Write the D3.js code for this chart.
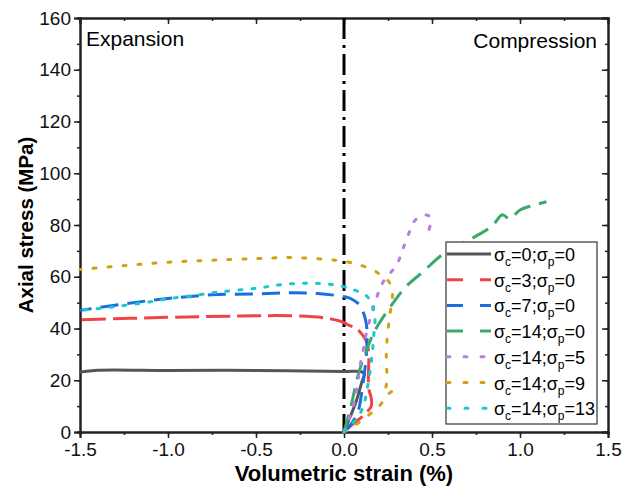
<!DOCTYPE html>
<html>
<head>
<meta charset="utf-8">
<script src="https://cdn.jsdelivr.net/npm/d3@7"></script>
<style>
  body { margin: 0; background: #fff; }
  svg text { font-family: "Liberation Sans", Arial, sans-serif; }
  .tick text { font-size: 19px; fill: #111; font-family: "Liberation Sans", Arial, sans-serif; }
</style>
</head>
<body>
<svg id="chart" width="626" height="495"></svg>
<script>
// volumetric strain (%), axial stress (MPa)
const s0_0 = [[0,0],[0.03,5],[0.07,12],[0.1,19],[0.115,22.5],[0.1,23.3],[0,23.4],[-0.5,23.8],[-1.0,23.8],[-1.4,23.9],[-1.5,23.2]];
const s3_0 = [[0,0],[0.05,3],[0.12,7],[0.155,10],[0.155,13],[0.14,17],[0.14,25],[0.14,31],[0.12,36],[0.07,40],[0.02,41.5],[0,42.3],[-0.1,44],[-0.3,44.9],[-0.6,44.8],[-1.0,44.3],[-1.5,43.4]];
const s7_0 = [[0,0],[0.04,3],[0.08,8],[0.1,15],[0.12,25],[0.13,33],[0.13,40],[0.12,44],[0.09,49],[0.04,51.5],[0,52.3],[-0.15,53.5],[-0.3,53.8],[-0.5,53.4],[-0.75,53],[-1.0,51.6],[-1.25,49.5],[-1.5,47]];
const s14_0 = [[0,0],[0.02,5],[0.04,10],[0.08,22],[0.12,30],[0.16,37],[0.2,42],[0.27,49],[0.35,56],[0.45,62],[0.56,68.6],[0.65,72],[0.75,75.7],[0.84,79.5],[0.9,84],[0.94,82.3],[1.0,85.8],[1.07,87.5],[1.15,89]];
const s14_5 = [[0,0],[0.03,5],[0.06,12],[0.08,20],[0.09,25],[0.11,32],[0.13,39],[0.186,52],[0.22,57.7],[0.3,64.7],[0.33,70],[0.356,74.4],[0.4,81.5],[0.44,83.4],[0.48,83.7],[0.49,80.2],[0.48,77.6]];
const s14_9 = [[0,0],[0.05,2],[0.13,6],[0.2,10],[0.25,14.5],[0.28,16.3],[0.24,16.5],[0.245,20],[0.24,28],[0.245,36],[0.26,45],[0.275,52],[0.27,56],[0.25,58.5],[0.21,60.6],[0.16,62.8],[0.08,64.7],[0,66],[-0.1,66.7],[-0.3,67.4],[-0.5,67],[-0.75,66.4],[-1.0,65.6],[-1.25,64.3],[-1.5,62.8]];
const s14_13 = [[0,0],[0.03,2],[0.08,6],[0.11,10],[0.14,20],[0.16,30],[0.17,38],[0.176,43.5],[0.16,49],[0.13,52.5],[0.09,54],[0.03,55.6],[-0.07,57],[-0.2,57.5],[-0.35,57],[-0.5,55.5],[-0.7,54.2],[-0.85,52.8],[-1.0,51.5],[-1.1,50.3],[-1.25,48.9],[-1.35,48],[-1.5,47]];

const seriesNames = [["0","0"],["3","0"],["7","0"],["14","0"],["14","5"],["14","9"],["14","13"]];
const seriesData = [s0_0, s3_0, s7_0, s14_0, s14_5, s14_9, s14_13];
const colors = ["#555555","#f04444","#1a6ee0","#3aaa6a","#b57ee6","#d3a010","#1cc8cc"];
const dashes = [null, "24,7", "18,9", "18,9", "3,11", "3,12", "3,10"];
const legendDashes = [null, "16,17,12", "16,17,12", "16,17,12", "3,14", "3,14", "3,15"];

const xTicks = [-1.5,-1.0,-0.5,0.0,0.5,1.0,1.5];
const yTicks = [0,20,40,60,80,100,120,140,160];

const svg = d3.select("#chart");
const mLeft = 80, mRight = 608, mTop = 18, mBottom = 432;

const x = d3.scaleLinear().domain([-1.5, 1.5]).range([mLeft, mRight]);
const y = d3.scaleLinear().domain([0, 160]).range([mBottom, mTop]);

const xMinor = d3.range(-1.5, 1.51, 0.25);
const yMinor = d3.range(0, 161, 10);

// axes: bottom/left outward, top/right inward
function styleAxis(g) {
    g.attr("font-family", null);
    g.select(".domain").attr("stroke", "#222").attr("stroke-width", 2);
    g.selectAll(".tick line").attr("stroke", "#222").attr("stroke-width", 1.5);
}
svg.append("g").attr("transform", `translate(0,${mBottom})`)
    .call(d3.axisBottom(x).tickValues(xMinor).tickSize(3).tickFormat(""))
    .call(styleAxis);
svg.append("g").attr("transform", `translate(0,${mBottom})`)
    .call(d3.axisBottom(x).tickValues(xTicks).tickSize(6).tickPadding(5).tickFormat(d => d.toFixed(1)))
    .call(styleAxis);
svg.append("g").attr("transform", `translate(0,${mTop})`)
    .call(d3.axisTop(x).tickValues(xMinor).tickSize(-3).tickFormat(""))
    .call(styleAxis);
svg.append("g").attr("transform", `translate(0,${mTop})`)
    .call(d3.axisTop(x).tickValues(xTicks).tickSize(-6).tickFormat(""))
    .call(styleAxis);
svg.append("g").attr("transform", `translate(${mLeft},0)`)
    .call(d3.axisLeft(y).tickValues(yMinor).tickSize(3).tickFormat(""))
    .call(styleAxis);
svg.append("g").attr("transform", `translate(${mLeft},0)`)
    .call(d3.axisLeft(y).tickValues(yTicks).tickSize(6).tickPadding(3))
    .call(styleAxis);
svg.append("g").attr("transform", `translate(${mRight},0)`)
    .call(d3.axisRight(y).tickValues(yMinor).tickSize(-3).tickFormat(""))
    .call(styleAxis);
svg.append("g").attr("transform", `translate(${mRight},0)`)
    .call(d3.axisRight(y).tickValues(yTicks).tickSize(-6).tickFormat(""))
    .call(styleAxis);

// axis titles
svg.append("text")
    .attr("x", x(0)).attr("y", 481)
    .attr("text-anchor", "middle")
    .style("font-size", "22px").style("font-weight", "bold")
    .text("Volumetric strain (%)");
svg.append("text")
    .attr("transform", `translate(33,${y(80)}) rotate(-90)`)
    .attr("text-anchor", "middle")
    .style("font-size", "20.5px").style("font-weight", "bold")
    .text("Axial stress (MPa)");

// region labels
svg.append("text").attr("x", 86).attr("y", 46)
    .style("font-size", "21px").text("Expansion");
svg.append("text").attr("x", 597).attr("y", 48)
    .attr("text-anchor", "end")
    .style("font-size", "21px").text("Compression");

// zero strain divider
svg.append("line")
    .attr("x1", x(0)).attr("x2", x(0))
    .attr("y1", mTop).attr("y2", mBottom)
    .attr("stroke", "#000").attr("stroke-width", 3)
    .attr("stroke-dasharray", "21,6,3,6");

// curves
const line = d3.line()
    .x(d => x(d[0]))
    .y(d => y(d[1]))
    .curve(d3.curveCatmullRom.alpha(0.5));

svg.selectAll(".curve")
    .data(seriesData)
    .join("path")
    .attr("class", "curve")
    .attr("d", line)
    .attr("fill", "none")
    .attr("stroke", (d, i) => colors[i])
    .attr("stroke-width", 3)
    .attr("stroke-linecap", (d, i) => i >= 4 ? "round" : "butt")
    .attr("stroke-dasharray", (d, i) => dashes[i]);

// legend
const lg = svg.append("g").attr("transform", "translate(446,242)");
lg.append("rect")
    .attr("width", 151).attr("height", 182)
    .attr("fill", "#fff").attr("stroke", "#444").attr("stroke-width", 1.3);

const items = lg.selectAll(".item")
    .data(seriesNames)
    .join("g")
    .attr("transform", (d, i) => `translate(0,${12 + i * 25.7})`);

items.append("line")
    .attr("x1", 1).attr("x2", 45)
    .attr("stroke", (d, i) => colors[i])
    .attr("stroke-width", 3)
    .attr("stroke-linecap", (d, i) => i >= 4 ? "round" : "butt")
    .attr("stroke-dasharray", (d, i) => legendDashes[i]);

const lt = items.append("text")
    .attr("x", 48).attr("y", 7)
    .style("font-size", "18px");
lt.append("tspan").text("σ");
lt.append("tspan").attr("dy", 5).style("font-size", "12px").text("c");
lt.append("tspan").attr("dy", -5).text(d => `=${d[0]};σ`);
lt.append("tspan").attr("dy", 5).style("font-size", "12px").text("p");
lt.append("tspan").attr("dy", -5).text(d => `=${d[1]}`);
</script>
</body>
</html>
